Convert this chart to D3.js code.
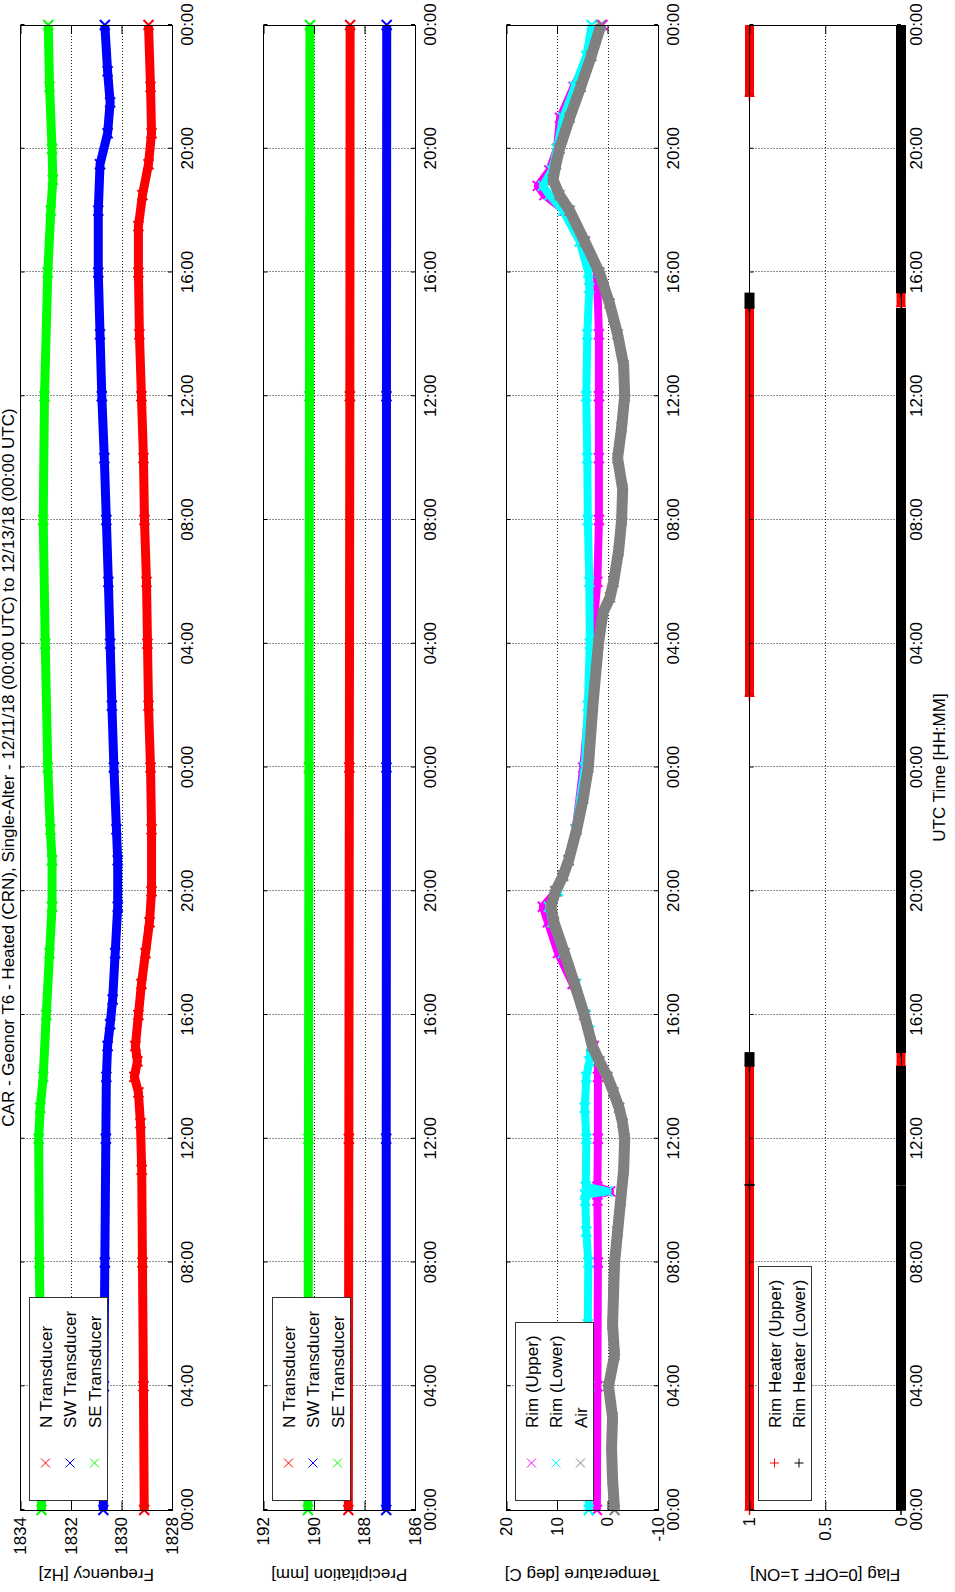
<!DOCTYPE html>
<html>
<head>
<meta charset="utf-8">
<script src="https://cdn.jsdelivr.net/npm/d3@7"></script>
<style>
body { margin: 0; background: #fff; }
svg text { font-family: "Liberation Sans", Arial, Helvetica, sans-serif; fill: #000; }
</style>
</head>
<body>
<div id="canvas"></div>
<script>
// ----------------------------------------------------------
// DATA -----------------------------------------------------
// ----------------------------------------------------------
var text_title = "CAR - Geonor T6 - Heated (CRN), Single-Alter - 12/11/18 (00:00 UTC) to 12/13/18 (00:00 UTC)";
var text_xlabel = "UTC Time [HH:MM]";
var panel_labels = ["Frequency [Hz]", "Precipitation [mm]", "Temperature [deg C]", "Flag [0=OFF 1=ON]"];

// hours since start
var time_ticks = [0, 4, 8, 12, 16, 20, 24, 28, 32, 36, 40, 44, 48];
var time_tick_labels = ["00:00", "04:00", "08:00", "12:00", "16:00", "20:00", "00:00",
  "04:00", "08:00", "12:00", "16:00", "20:00", "00:00"];

var freq_ticks = [1828, 1830, 1832, 1834];
var precip_ticks = [186, 188, 190, 192];
var temp_ticks = [-10, 0, 10, 20];
var flag_ticks = [0, 0.5, 1];

var transducer_names = ["N Transducer", "SW Transducer", "SE Transducer"];
var temp_names = ["Rim (Upper)", "Rim (Lower)", "Air"];
var heater_names = ["Rim Heater (Upper)", "Rim Heater (Lower)"];

// frequency
var freq_times_n = [0, 4, 8, 11, 12.5, 13.5, 14, 14.5, 15, 16, 17, 18, 19, 20, 22, 24, 26, 28, 30, 32, 34, 36, 38, 40, 41.5, 42.5, 43.5, 44.5, 46, 48];
var freq_values_n = [1829.10, 1829.13, 1829.17, 1829.20, 1829.25, 1829.33, 1829.49, 1829.37, 1829.45, 1829.33, 1829.21, 1829.05, 1828.89, 1828.81, 1828.81, 1828.85, 1828.93, 1828.97, 1829.01, 1829.09, 1829.13, 1829.21, 1829.29, 1829.33, 1829.33, 1829.17, 1828.93, 1828.81, 1828.85, 1828.93];
var freq_times_sw = [0, 4, 8, 12, 14, 15, 15.7, 16.5, 18, 19.5, 21, 22, 24, 26, 28, 30, 32, 34, 36, 38, 40, 42, 43.5, 44.5, 45.5, 46.5, 48];
var freq_values_sw = [1830.72, 1830.70, 1830.66, 1830.62, 1830.60, 1830.55, 1830.45, 1830.35, 1830.25, 1830.15, 1830.15, 1830.20, 1830.30, 1830.38, 1830.45, 1830.52, 1830.60, 1830.68, 1830.78, 1830.85, 1830.92, 1830.92, 1830.85, 1830.55, 1830.45, 1830.55, 1830.66];
var freq_times_se = [0, 4, 8, 12, 13, 14, 16, 18, 19.5, 21, 22, 24, 28, 32, 36, 40, 42, 43, 44, 46, 48];
var freq_values_se = [1833.17, 1833.20, 1833.25, 1833.28, 1833.22, 1833.10, 1832.98, 1832.85, 1832.75, 1832.75, 1832.82, 1832.92, 1833.02, 1833.10, 1833.05, 1832.92, 1832.80, 1832.72, 1832.75, 1832.85, 1832.90];

// precipitation
var precip_times = [0, 12, 24, 36, 48];
var precip_values_n = [188.64, 188.62, 188.60, 188.58, 188.57];
var precip_values_sw = [187.14, 187.14, 187.13, 187.13, 187.12];
var precip_values_se = [190.24, 190.22, 190.20, 190.18, 190.16];

// temperature
var temp_times_upper = [0, 4, 8, 10, 10.2, 10.3, 10.45, 12, 14, 14.5, 15, 16, 17, 18, 19, 19.5, 20, 20.5, 21, 22, 24, 26, 28, 30, 32, 34, 36, 38, 40, 41, 42, 42.5, 42.8, 43.3, 44, 45, 46, 47, 48];
var temp_values_upper = [2.1, 2.0, 1.9, 2.0, 2.0, -0.5, 2.0, 1.9, 1.9, 1.9, 2.7, 4.5, 6.9, 9.8, 11.8, 12.8, 10.2, 8.9, 7.7, 6.3, 4.8, 3.7, 3.1, 2.0, 1.7, 1.7, 1.7, 1.7, 2.1, 4.5, 8.5, 12.5, 13.8, 11.5, 10.0, 9.4, 6.7, 3.7, 1.0];
var temp_times_lower = [0, 2, 4, 6, 8, 9, 10, 10.2, 10.3, 10.45, 12, 13, 14, 14.5, 15, 15.5, 16, 17, 18, 19, 19.5, 20, 20.5, 21, 22, 24, 26, 28, 30, 32, 34, 36, 38, 39.5, 40, 41, 42, 42.5, 42.8, 43.3, 44, 45, 46, 47, 48];
var temp_values_lower = [3.7, 3.8, 3.6, 3.9, 3.8, 4.2, 4.4, 4.4, 0.0, 4.3, 4.2, 4.5, 4.2, 3.6, 3.3, 3.6, 4.3, 6.2, 8.8, 10.9, 11.6, 9.8, 8.8, 7.7, 6.3, 4.5, 3.9, 3.5, 3.6, 3.9, 4.0, 4.2, 4.0, 3.6, 3.8, 5.5, 8.8, 11.5, 12.8, 11.0, 10.0, 8.8, 6.5, 4.2, 3.1];
var temp_times_air = [0, 1, 2, 3, 4, 5, 6, 7, 8, 9, 10, 11, 12, 12.5, 13, 13.5, 14, 14.5, 15, 16, 17, 18, 19, 19.5, 20, 20.5, 21, 22, 23, 24, 26, 28, 29, 29.5, 30, 31, 32, 33, 34, 35, 36, 37, 38, 39, 40, 41, 42, 42.5, 43, 43.5, 44, 45, 46, 47, 48];
var temp_values_air = [-1.4, -1.0, -0.8, -1.0, -0.2, -1.4, -1.0, -1.2, -1.4, -2.0, -2.6, -3.2, -3.4, -3.0, -2.3, -1.2, 0.0, 1.6, 3.0, 4.6, 6.5, 8.5, 10.6, 11.2, 10.3, 8.8, 7.7, 6.1, 4.8, 3.8, 2.9, 1.8, 0.9, -0.5, -1.2, -2.2, -2.8, -3.0, -2.0, -2.8, -3.4, -3.2, -2.0, -0.4, 1.6, 4.5, 7.5, 9.5, 10.8, 10.2, 9.5, 7.5, 5.3, 3.2, 1.3];

// heater flags (value holds until next time)
var flag_times_upper = [0, 14.35, 26.3, 38.9, 45.7, 48];
var flag_values_upper = [1, 0, 1, 0, 1, 1];
var flag_times_lower = [0, 10.5, 10.53, 14.35, 14.8, 38.85, 39.35, 48];
var flag_values_lower = [0, 1, 0, 1, 0, 1, 0, 0];


// ----------------------------------------------------------
// LAYOUT ---------------------------------------------------
// ----------------------------------------------------------
// figure is drawn landscape and turned a quarter left
var layout = {
  page_width: 955,
  page_height: 1592,
  axis_left: 82,
  axis_right: 1567,
  panel_top: [20.5, 263.5, 506.5, 749.5],
  panel_height: 151.5,
  font_size: 17,
  title_y: 14,
  legend_x: 91.5,
  legend_dy: 9,
  legend_text_x: 72.5,
  legend_marker_x: 37.5,
  legend_row: 24.5
};

function pairs(times, values) {
  return times.map(function(t, i) { return [t, values[i]]; });
}

var panels = [
  { label: panel_labels[0], ticks: freq_ticks, domain: [1828, 1834], marker: "x",
    series: [
      { name: transducer_names[0], color: "#ff0000", width: 9, data: pairs(freq_times_n, freq_values_n) },
      { name: transducer_names[1], color: "#0000ff", width: 9, data: pairs(freq_times_sw, freq_values_sw) },
      { name: transducer_names[2], color: "#00ff00", width: 9, data: pairs(freq_times_se, freq_values_se) }
    ] },
  { label: panel_labels[1], ticks: precip_ticks, domain: [186, 192], marker: "x",
    series: [
      { name: transducer_names[0], color: "#ff0000", width: 9, data: pairs(precip_times, precip_values_n) },
      { name: transducer_names[1], color: "#0000ff", width: 9, data: pairs(precip_times, precip_values_sw) },
      { name: transducer_names[2], color: "#00ff00", width: 9, data: pairs(precip_times, precip_values_se) }
    ] },
  { label: panel_labels[2], ticks: temp_ticks, domain: [-10, 20], marker: "x",
    series: [
      { name: temp_names[0], color: "#ff00ff", width: 8, data: pairs(temp_times_upper, temp_values_upper) },
      { name: temp_names[1], color: "#00ffff", width: 8, data: pairs(temp_times_lower, temp_values_lower) },
      { name: temp_names[2], color: "#808080", width: 11, data: pairs(temp_times_air, temp_values_air) }
    ] },
  { label: panel_labels[3], ticks: flag_ticks, domain: [0, 1], marker: "+", step: true,
    series: [
      { name: heater_names[0], color: "#ff0000", width: 9, data: pairs(flag_times_upper, flag_values_upper) },
      { name: heater_names[1], color: "#000000", width: 10, data: pairs(flag_times_lower, flag_values_lower) }
    ] }
];


// ----------------------------------------------------------
// STRUCTURE ------------------------------------------------
// ----------------------------------------------------------
var svg = d3.select("#canvas").append("svg")
  .attr("width", layout.page_width)
  .attr("height", layout.page_height)
  .style("background-color", "#fff");

var fig = svg.append("g")
  .attr("class", "figure")
  .attr("transform", "translate(0," + layout.page_height + ") rotate(-90)");

var xScale = d3.scaleLinear()
  .domain([0, 48])
  .range([layout.axis_left, layout.axis_right]);

function markerPath(type, s) {
  if (type == "+") return "M" + (-s) + ",0H" + s + "M0," + (-s) + "V" + s;
  return "M" + (-s) + "," + (-s) + "L" + s + "," + s + "M" + (-s) + "," + s + "L" + s + "," + (-s);
}


// ----------------------------------------------------------
// GFX ------------------------------------------------------
// ----------------------------------------------------------
panels.forEach(function(p, i) {
  var top = layout.panel_top[i];
  var bottom = top + layout.panel_height;
  var yScale = d3.scaleLinear().domain(p.domain).range([bottom, top]);
  var g = fig.append("g").attr("class", "panel_" + i);

  // grid
  var grid = g.append("g").attr("class", "grid")
    .style("stroke", "#222").style("stroke-dasharray", "1,2").style("stroke-width", 1);
  grid.selectAll(".gx").data(time_ticks.slice(1, -1)).enter().append("line")
    .attr("x1", function(d) { return Math.round(xScale(d)) + 0.5; })
    .attr("x2", function(d) { return Math.round(xScale(d)) + 0.5; })
    .attr("y1", top).attr("y2", bottom);
  grid.selectAll(".gy").data(p.ticks.filter(function(d) { return d != p.domain[0] && d != p.domain[1]; }))
    .enter().append("line")
    .attr("x1", layout.axis_left).attr("x2", layout.axis_right)
    .attr("y1", function(d) { return Math.round(yScale(d)) + 0.5; })
    .attr("y2", function(d) { return Math.round(yScale(d)) + 0.5; });

  // series
  var line = d3.line()
    .x(function(d) { return xScale(d[0]); })
    .y(function(d) { return yScale(d[1]); });

  p.series.forEach(function(s) {
    var sg = g.append("g").attr("class", "series");
    if (p.step) {
      // one band per on/off interval
      var segs = s.data.slice(0, -1).map(function(d, k) { return [d, s.data[k + 1]]; });
      sg.selectAll("line").data(segs).enter().append("line")
        .attr("x1", function(d) { return xScale(d[0][0]); })
        .attr("x2", function(d) { return xScale(d[1][0]); })
        .attr("y1", function(d) { return yScale(d[0][1]); })
        .attr("y2", function(d) { return yScale(d[0][1]); })
        .style("stroke", s.color).style("stroke-width", s.width);
      sg.selectAll("path").data(s.data.slice(0, -1)).enter().append("path")
        .attr("d", markerPath("+", 5))
        .attr("transform", function(d) { return "translate(" + xScale(d[0]) + "," + yScale(d[1]) + ")"; })
        .style("stroke", s.color).style("stroke-width", 1.5).style("fill", "none");
    } else {
      sg.append("path")
        .datum(s.data)
        .attr("d", line)
        .style("fill", "none")
        .style("stroke", s.color)
        .style("stroke-width", s.width)
        .style("stroke-linejoin", "round");
      sg.selectAll(".mk").data(s.data).enter().append("path")
        .attr("d", markerPath("x", 5))
        .attr("transform", function(d) { return "translate(" + xScale(d[0]) + "," + yScale(d[1]) + ")"; })
        .style("stroke", s.color).style("stroke-width", 2).style("fill", "none");
    }
  });

  // axes (ticks point inward)
  var axB = g.append("g").attr("transform", "translate(0," + bottom + ")")
    .call(d3.axisBottom(xScale).tickValues(time_ticks)
      .tickFormat(function(d, j) { return time_tick_labels[j]; })
      .tickSizeInner(-4).tickSizeOuter(0).tickPadding(8.5));
  var axT = g.append("g").attr("transform", "translate(0," + top + ")")
    .call(d3.axisTop(xScale).tickValues(time_ticks).tickFormat("")
      .tickSizeInner(-4).tickSizeOuter(0));
  var axL = g.append("g").attr("transform", "translate(" + layout.axis_left + ",0)")
    .call(d3.axisLeft(yScale).tickValues(p.ticks)
      .tickFormat(function(d) { return String(d); })
      .tickSizeInner(-9).tickSizeOuter(0).tickPadding(7));
  var axR = g.append("g").attr("transform", "translate(" + layout.axis_right + ",0)")
    .call(d3.axisRight(yScale).tickValues(p.ticks).tickFormat("")
      .tickSizeInner(-9).tickSizeOuter(0));
  [axB, axT, axL, axR].forEach(function(a) {
    a.select(".domain").remove();
    a.selectAll(".tick line").style("stroke", "#000");
    a.selectAll("text").style("font-size", layout.font_size + "px").attr("fill", "#000");
    a.attr("font-family", null);
  });

  // axes box
  g.append("rect")
    .attr("x", layout.axis_left).attr("y", top)
    .attr("width", layout.axis_right - layout.axis_left).attr("height", layout.panel_height)
    .style("fill", "none").style("stroke", "#000").style("stroke-width", 1)
    .style("shape-rendering", "crispEdges");

  // y label
  g.append("text")
    .attr("transform", "translate(23," + (top + layout.panel_height / 2) + ") rotate(-90)")
    .attr("text-anchor", "middle")
    .style("font-size", layout.font_size + "px")
    .text(p.label);

  // legend
  var lg = g.append("g").attr("class", "legend")
    .attr("transform", "translate(" + layout.legend_x + "," + (top + layout.legend_dy) + ")");
  var box = lg.append("rect")
    .style("fill", "#fff").style("stroke", "#333").style("stroke-width", 1)
    .style("shape-rendering", "crispEdges");
  p.series.forEach(function(s, k) {
    lg.append("text")
      .attr("x", layout.legend_text_x)
      .attr("y", 22 + layout.legend_row * k)
      .style("font-size", layout.font_size + "px")
      .text(s.name);
    lg.append("path")
      .attr("d", markerPath(p.marker, 4.5))
      .attr("transform", "translate(" + layout.legend_marker_x + "," + (16 + layout.legend_row * k) + ")")
      .style("stroke", s.color).style("stroke-width", 1).style("fill", "none");
  });
  var maxW = d3.max(lg.selectAll("text").nodes(), function(n) { return n.getComputedTextLength(); });
  box.attr("width", layout.legend_text_x + maxW + 13)
    .attr("height", layout.legend_row * p.series.length + 4);
});


// ----------------------------------------------------------
// TEXT -----------------------------------------------------
// ----------------------------------------------------------
fig.append("text")
  .attr("class", "text_title")
  .attr("x", (layout.axis_left + layout.axis_right) / 2)
  .attr("y", layout.title_y)
  .attr("text-anchor", "middle")
  .style("font-size", layout.font_size + "px")
  .text(text_title);

fig.append("text")
  .attr("class", "text_xlabel")
  .attr("x", (layout.axis_left + layout.axis_right) / 2)
  .attr("y", 945)
  .attr("text-anchor", "middle")
  .style("font-size", layout.font_size + "px")
  .text(text_xlabel);
</script>
</body>
</html>
